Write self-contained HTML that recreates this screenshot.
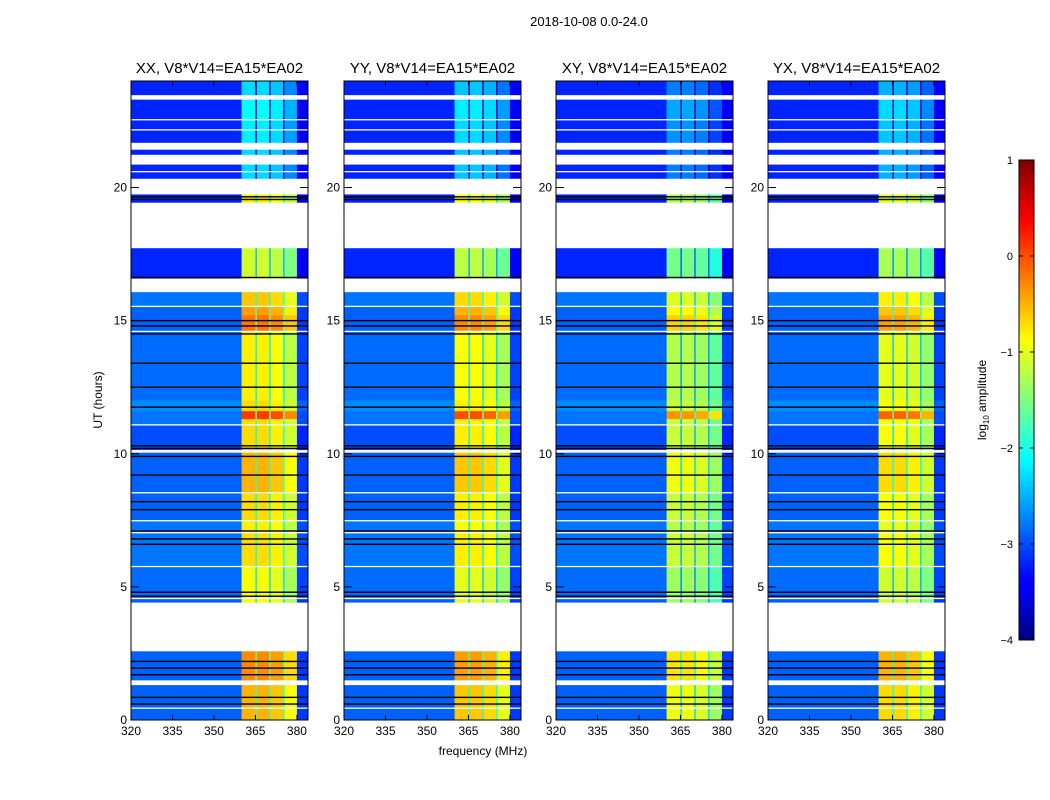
<!DOCTYPE html>
<html><head><meta charset="utf-8"><style>
body{margin:0;background:#fff;}
svg{display:block;font-family:"Liberation Sans",sans-serif;}
</style></head><body>
<svg id="fig" width="1050" height="800" viewBox="0 0 1050 800">
<defs>
<linearGradient id="jet" x1="0" y1="1" x2="0" y2="0">
<stop offset="0" stop-color="#00007f"/><stop offset="0.11" stop-color="#0000ff"/>
<stop offset="0.125" stop-color="#0000ff"/><stop offset="0.375" stop-color="#00ffff"/>
<stop offset="0.625" stop-color="#ffff00"/><stop offset="0.875" stop-color="#ff0000"/>
<stop offset="1" stop-color="#7f0000"/></linearGradient>
</defs>
<text x="589" y="26" font-size="13" text-anchor="middle">2018-10-08 0.0-24.0</text>
<text x="483" y="755" font-size="12" text-anchor="middle">frequency (MHz)</text>
<text transform="translate(102,400) rotate(-90)" font-size="12" text-anchor="middle">UT (hours)</text>
<g id="panels"></g>
<g>
<rect x="1019" y="160" width="15" height="480" fill="url(#jet)" stroke="#000" stroke-width="1"/>
<g id="cbticks"></g>
<text transform="translate(986,400) rotate(-90)" font-size="12" text-anchor="middle">log<tspan font-size="8" dy="3">10</tspan><tspan dy="-3"> amplitude</tspan></text>
</g>
</svg>
<script>
const panelNames = ["XX","YY","XY","YX"];
const panelBandOffset = [0, -0.1, -0.45, -0.2];
const panelBgOffset = [0, 0, 0, 0];
const xTicks = [320,335,350,365,380];
const yTicks = [0,5,10,15,20];
const cbTicks = [1,0,-1,-2,-3,-4];
// [startMHz, endMHz, offset, type]
const channels = [
 [320,360,0,"bg"],[360,365,0.1,"band"],[365,365.5,-1.3,"band"],[365.5,370,0.1,"band"],
 [370,370.5,-1.3,"band"],[370.5,375,0,"band"],[375,375.5,-1.3,"band"],[375.5,380,-0.3,"band"],[380,384,-0.2,"bg"]
];
// [topHour, bottomHour, bgLevel, bandLevel]
const segments = [
 [24.0,23.48,-3.2,-2.4],[23.30,22.58,-3.2,-2.2],[22.52,22.2,-3.2,-2.3],[22.14,21.69,-3.2,-2.3],
 [21.42,21.24,-3.2,-2.4],[20.86,20.63,-3.2,-2.4],[20.57,20.34,-3.2,-2.4],[19.74,19.44,-3.2,-0.9],
 [17.72,16.59,-3.2,-1.2],[16.07,15.57,-2.8,-0.7],[15.51,15.2,-2.9,-0.5],[15.2,14.63,-2.9,-0.3],
 [14.57,12.0,-2.85,-0.9],[12.0,11.6,-2.7,-0.8],[11.6,11.3,-2.8,0.0],[11.3,11.12,-2.8,-0.8],
 [11.06,10.15,-3.0,-0.8],[10.04,8.57,-2.9,-0.6],[8.51,7.52,-2.9,-0.8],[7.46,7.07,-2.8,-0.9],
 [7.01,5.8,-2.8,-0.8],[5.74,4.6,-2.85,-1.0],[4.54,4.42,-2.9,-1.0],[2.58,1.5,-2.9,-0.4],
 [1.31,0.48,-2.9,-0.6],[0.42,0,-2.9,-0.6]
];
const blackLines = [19.65,19.55,16.62,15.0,14.8,14.5,13.4,12.5,11.75,10.3,10.2,9.9,9.2,8.2,7.9,7.1,6.8,6.6,4.8,4.65,2.2,1.95,1.7,0.85,0.6];

const panelLeft = [131,344,556,768], PW = 177, PT = 81, PB = 720;
const fmin = 320, fmax = 384, hmin = 0, hmax = 24;
const NS = "http://www.w3.org/2000/svg";
function yS(h){ return PB - (h-hmin)/(hmax-hmin)*(PB-PT); }
function jet(v){
 let t = Math.max(0, Math.min(1, (v+4)/5));
 const c = x => Math.round(255*Math.max(0, Math.min(1, x)));
 return `rgb(${c(1.5-Math.abs(4*t-3))},${c(1.5-Math.abs(4*t-2))},${c(1.5-Math.abs(4*t-1))})`;
}
function mk(tag, attrs, parent){ const e=document.createElementNS(NS,tag); for(const k in attrs) e.setAttribute(k,attrs[k]); parent.appendChild(e); return e; }
const root = document.getElementById("panels");
panelNames.forEach((name, p) => {
 const L = panelLeft[p];
 const xS = f => L + (f-fmin)/(fmax-fmin)*PW;
 const g = mk("g", {}, root);
 
 
 segments.forEach(s => {
  channels.forEach(ch => {
   const v = ch[3]==="bg" ? s[2]+ch[2]+panelBgOffset[p] : s[3]+ch[2]+panelBandOffset[p];
   const r = mk("rect", {x:xS(ch[0]), y:yS(s[0]), width:xS(ch[1])-xS(ch[0])+0.3, height:yS(s[1])-yS(s[0])+0.3, fill:jet(v)}, g);
   
   
  });
 });
 blackLines.forEach(h => {
  const l = mk("rect", {x:L, y:yS(h)-0.7, width:PW, height:1.4, fill:"#000"}, g);
  
  
 });
 const fr = mk("rect", {x:L, y:PT, width:PW, height:PB-PT, fill:"none", stroke:"#000", "stroke-width":1}, g);
 
 
 const t = mk("text", {x:L+PW/2, y:73, "font-size":15, "text-anchor":"middle"}, g);
 t.textContent = name + ", V8*V14=EA15*EA02";
 
 
 xTicks.forEach(f => {
  const x = xS(f);
  mk("line", {x1:x, y1:PB, x2:x, y2:PB-5, stroke:"#000"}, g);
  mk("line", {x1:x, y1:PT, x2:x, y2:PT+5, stroke:"#000"}, g);
  const tl = mk("text", {x:x, y:PB+15, "font-size":12, "text-anchor":"middle"}, g);
  tl.textContent = f;
  
  
 });
 yTicks.forEach(h => {
  const y = yS(h);
  mk("line", {x1:L, y1:y, x2:L+8, y2:y, stroke:"#000"}, g);
  mk("line", {x1:L+PW, y1:y, x2:L+PW-8, y2:y, stroke:"#000"}, g);
  const tl = mk("text", {x:L-4, y:y+4, "font-size":12, "text-anchor":"end"}, g);
  tl.textContent = h;
  
  
 });
});
const cb = document.getElementById("cbticks");
cbTicks.forEach(v => {
 const y = 640 - (v+4)/5*480;
 mk("line", {x1:1019, y1:y, x2:1023, y2:y, stroke:"#000"}, cb);
 mk("line", {x1:1034, y1:y, x2:1030, y2:y, stroke:"#000"}, cb);
 const tl = mk("text", {x:1013, y:y+4, "font-size":11, "text-anchor":"end"}, cb);
 tl.textContent = v < 0 ? "\u2212" + (-v) : v;
 
 
});
</script>
</body></html>
